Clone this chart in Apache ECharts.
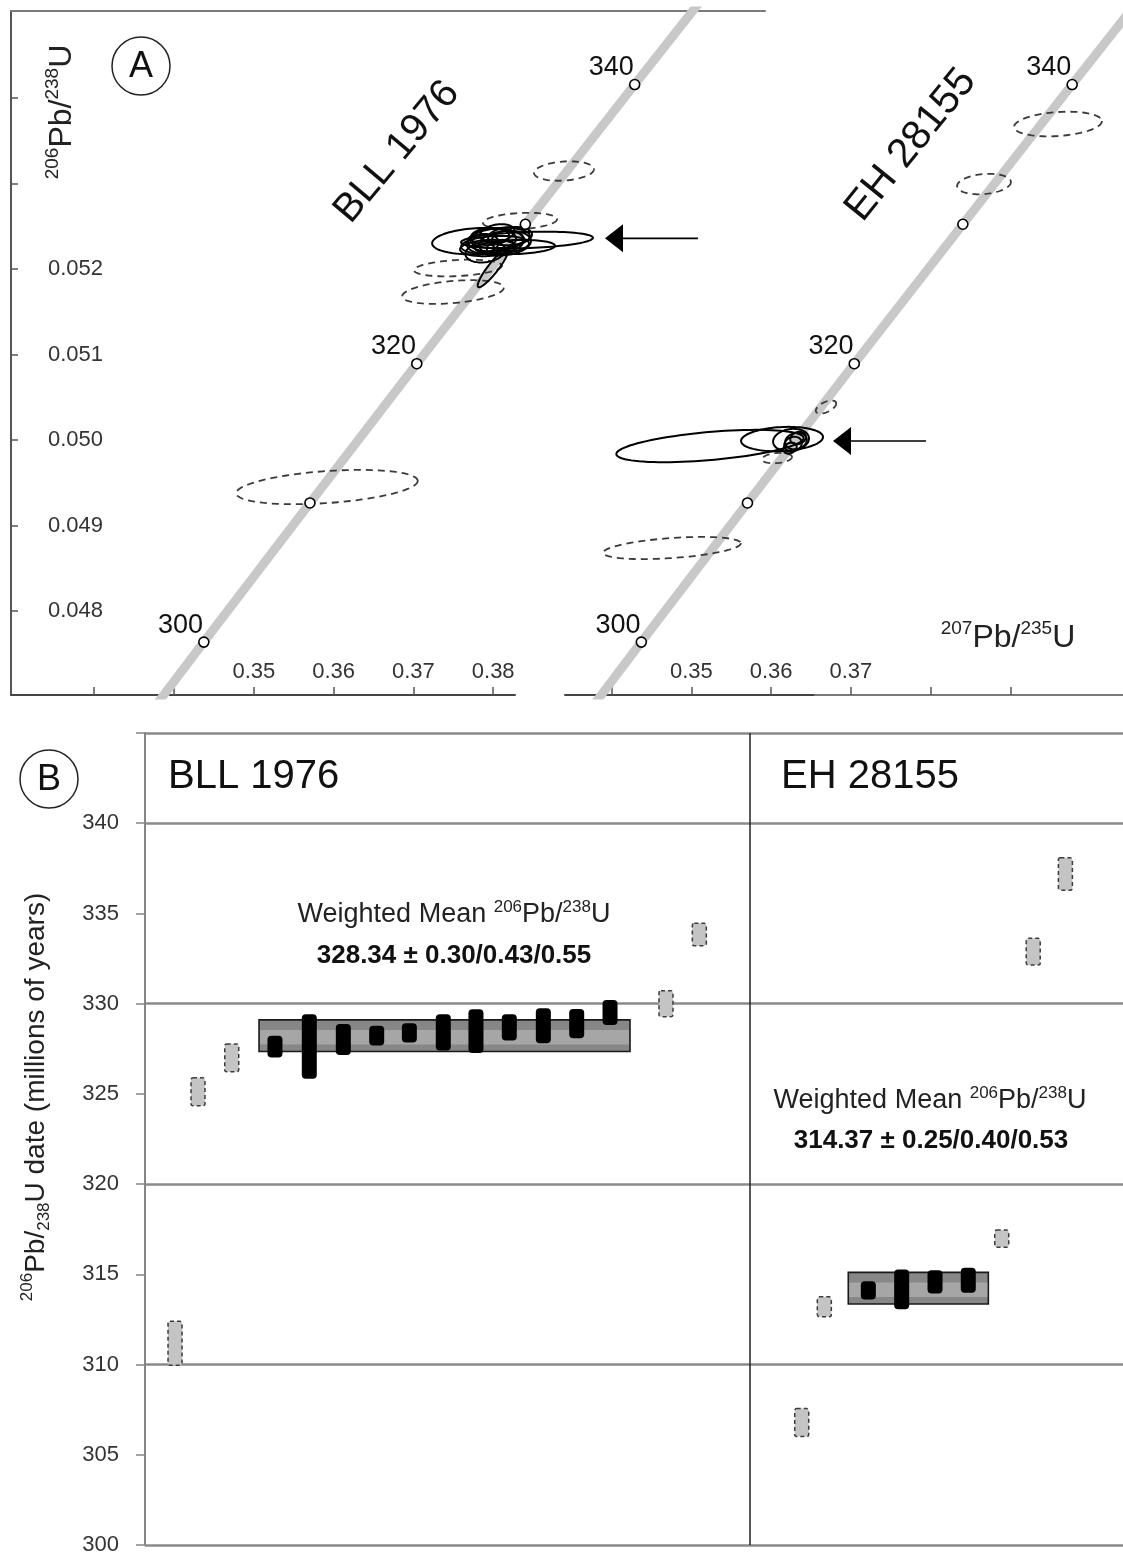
<!DOCTYPE html>
<html><head><meta charset="utf-8">
<script src="https://cdn.jsdelivr.net/npm/echarts@6/dist/echarts.min.js"></script>
<style>html,body{margin:0;padding:0;background:#fff}#c{width:1123px;height:1556px}</style>
</head><body><div id="c"></div>
<script>
// ---------- Panel A: concordia reference points ----------
const concAges = [290, 300, 310, 320, 330, 340, 350];
const concX = [0.330569, 0.343738, 0.357037, 0.370422, 0.384031, 0.397729, 0.411563]; // 207Pb/235U
const concY = [0.046013, 0.047637, 0.049264, 0.050893, 0.052524, 0.054158, 0.055795]; // 206Pb/238U
const markerAges = [300, 310, 320, 330, 340];
const markerLabeled = [true, false, true, false, true];

// BLL 1976 ellipses (centre x, centre y, semi-axis x, semi-axis y, tilt deg, dashed=excluded)
const bllCx = [0.38887, 0.38336, 0.37559, 0.37496, 0.35917, 0.37810, 0.38424, 0.38085, 0.38023, 0.38148, 0.37935, 0.38211, 0.37985, 0.38273, 0.37998, 0.37900, 0.38050, 0.37870, 0.38100, 0.37960, 0.38180];
const bllCy = [0.053146, 0.052561, 0.052012, 0.051731, 0.049450, 0.052327, 0.052339, 0.052363, 0.052281, 0.052304, 0.052246, 0.052386, 0.052339, 0.052257, 0.052012, 0.052200, 0.052420, 0.052300, 0.052250, 0.052380, 0.052330];
const bllRx = [0.00376, 0.00464, 0.00551, 0.00639, 0.01140, 0.00576, 0.00827, 0.00376, 0.00426, 0.00326, 0.00351, 0.00276, 0.00301, 0.00501, 0.00301, 0.00250, 0.00220, 0.00200, 0.00180, 0.00240, 0.00200];
const bllRy = [0.000111, 0.000094, 0.000094, 0.000129, 0.000187, 0.000152, 0.000094, 0.000117, 0.000105, 0.000140, 0.000094, 0.000105, 0.000129, 0.000082, 0.000059, 0.000120, 0.000100, 0.000110, 0.000090, 0.000100, 0.000120];
const bllRot = [4, 3, 3, 5, 4, 3, 2, 4, 3, 6, 3, 5, 4, 2, 52, 8, 10, 5, 6, 3, 4];
const bllDashed = [1, 1, 1, 1, 1, 0, 0, 0, 0, 0, 0, 0, 0, 0, 0, 0, 0, 0, 0, 0, 0];

// EH 28155 ellipses
const ehCx = [0.36688, 0.36074, 0.34758, 0.39595, 0.38668, 0.35234, 0.36137, 0.36250, 0.36312, 0.36275, 0.36338, 0.36237];
const ehCy = [0.050386, 0.049789, 0.048737, 0.053696, 0.052994, 0.049930, 0.050012, 0.050000, 0.049988, 0.049953, 0.050023, 0.049906];
const ehRx = [0.00138, 0.00188, 0.00865, 0.00551, 0.00338, 0.01178, 0.00514, 0.00226, 0.00138, 0.00113, 0.00100, 0.00088];
const ehRy = [0.000059, 0.000059, 0.000117, 0.000140, 0.000117, 0.000164, 0.000140, 0.000129, 0.000094, 0.000082, 0.000070, 0.000059];
const ehRot = [25, 5, 4, 4, 5, 5, 3, 8, 15, 20, 20, 25];
const ehDashed = [1, 1, 1, 1, 1, 0, 0, 0, 0, 0, 0, 0];

// arrows: tip x, tip y, tail x
const bllArrow = [0.39401, 0.052359, 0.40566];
const ehArrow = [0.36776, 0.049988, 0.37941];

// axis ticks
const bllXTicks = [0.33, 0.34, 0.35, 0.36, 0.37, 0.38];
const bllXLabels = [0.35, 0.36, 0.37, 0.38];
const ehXTicks = [0.34, 0.35, 0.36, 0.37, 0.38, 0.39];
const ehXLabels = [0.35, 0.36, 0.37];
const yTicksA = [0.048, 0.049, 0.050, 0.051, 0.052, 0.053, 0.054];
const yLabelsA = [0.048, 0.049, 0.050, 0.051, 0.052];

// ---------- Panel B: 206Pb/238U dates ----------
const bllPos = [3.07, 5.42, 8.87, 13.29, 16.8, 20.28, 23.69, 27.03, 30.5, 33.84, 37.25, 40.73, 44.14, 47.55, 53.27, 56.68];
const bllLow = [309.96, 324.34, 326.22, 327.01, 325.84, 327.15, 327.68, 327.85, 327.40, 327.26, 327.96, 327.81, 328.09, 328.82, 329.28, 333.21];
const bllHigh = [312.40, 325.89, 327.77, 328.22, 329.42, 328.88, 328.77, 328.92, 329.42, 329.69, 329.42, 329.75, 329.71, 330.21, 330.72, 334.45];
const bllUsed = [0, 0, 0, 1, 1, 1, 1, 1, 1, 1, 1, 1, 1, 1, 0, 0];
const bllMeanBox = [11.66, 49.59, 327.35, 329.10];

const ehPos = [67.15, 69.46, 73.96, 77.37, 80.78, 84.18, 87.6, 90.82, 94.11];
const ehLow = [306.01, 312.65, 313.61, 313.06, 313.94, 313.98, 316.50, 332.14, 336.29];
const ehHigh = [307.56, 313.76, 314.62, 315.27, 315.23, 315.36, 317.45, 333.62, 338.08];
const ehUsed = [0, 0, 1, 1, 1, 1, 0, 0, 0];
const ehMeanBox = [71.91, 86.23, 313.36, 315.11];
const samplesDivider = 61.86;

const FF = 'Liberation Sans, Arial, sans-serif';

function rows() {
  const cols = Array.from(arguments);
  return cols[0].map((_, i) => cols.map(c => c[i]));
}

function ellipseItem(params, api) {
  const c = api.coord([api.value(0), api.value(1)]);
  const s = api.size([api.value(2), api.value(3)]);
  const r = api.value(4) * Math.PI / 180;
  const dashed = api.value(5) === 1;
  const pts = [];
  for (let i = 0; i < 90; i++) {
    const t = i / 90 * Math.PI * 2;
    const ex = s[0] * Math.cos(t), ey = s[1] * Math.sin(t);
    pts.push([c[0] + ex * Math.cos(r) + ey * Math.sin(r), c[1] - ex * Math.sin(r) + ey * Math.cos(r)]);
  }
  return {
    type: 'polygon', shape: { points: pts },
    style: dashed ? { fill: 'none', stroke: '#3a3a3a', lineWidth: 1.8, lineDash: [7, 5] }
                  : { fill: 'none', stroke: '#000', lineWidth: 2 }
  };
}

function arrowItem(params, api) {
  const tip = api.coord([api.value(0), api.value(1)]);
  const tail = api.coord([api.value(2), api.value(1)]);
  return {
    type: 'group', children: [
      { type: 'polygon', shape: { points: [[tip[0], tip[1]], [tip[0] + 18, tip[1] - 14], [tip[0] + 18, tip[1] + 14]] }, style: { fill: '#000' } },
      { type: 'line', shape: { x1: tip[0] + 17, y1: tip[1], x2: tail[0], y2: tail[1] }, style: { stroke: '#000', lineWidth: 1.6 } }
    ]
  };
}

function barItem(params, api) {
  const top = api.coord([api.value(0), api.value(2)]);
  const bot = api.coord([api.value(0), api.value(1)]);
  const used = api.value(3) === 1;
  const w = used ? 15 : 14;
  return {
    type: 'rect',
    shape: { x: top[0] - w / 2, y: top[1], width: w, height: bot[1] - top[1], r: used ? 4 : 2 },
    style: used ? { fill: '#000' } : { fill: '#c4c4c4', stroke: '#3c3c3c', lineWidth: 1.5, lineDash: [4, 3] }
  };
}

function boxItem(params, api) {
  const p0 = api.coord([api.value(0), api.value(3)]);
  const p1 = api.coord([api.value(1), api.value(2)]);
  const h = p1[1] - p0[1], w = p1[0] - p0[0];
  return {
    type: 'group', children: [
      { type: 'rect', shape: { x: p0[0], y: p0[1], width: w, height: h }, style: { fill: '#878787', stroke: '#1a1a1a', lineWidth: 1.6 } },
      { type: 'rect', shape: { x: p0[0] + 1, y: p0[1] + h * 0.32, width: w - 2, height: h * 0.46 }, style: { fill: '#a6a6a6' } }
    ]
  };
}

const concData = rows(concX, concY);
const markerData = markerAges.map((a, i) => {
  const k = concAges.indexOf(a);
  return { value: [concX[k], concY[k], a], label: { show: markerLabeled[i] } };
});

const yA = { min: 0.047018, max: 0.055018 };

function concSeries(xi, yi) {
  return [
    { type: 'line', xAxisIndex: xi, yAxisIndex: yi, data: concData, showSymbol: false, silent: true, clip: true,
      lineStyle: { color: '#c8c8c8', width: 9 }, z: 1 },
    { type: 'scatter', xAxisIndex: xi, yAxisIndex: yi, data: markerData, symbol: 'circle', symbolSize: 10, z: 6, silent: true,
      itemStyle: { color: '#fff', borderColor: '#000', borderWidth: 1.6, opacity: 1 },
      label: { position: 'left', distance: 0, offset: [5, -17], formatter: p => String(p.value[2]),
               fontSize: 27, fontFamily: FF, color: '#111' } }
  ];
}

const supRich = (big, small, col) => ({
  m: { fontSize: big, fontFamily: FF, fill: col, lineHeight: big * 1.2 },
  s: { fontSize: small, fontFamily: FF, fill: col, verticalAlign: 'top', lineHeight: big * 1.2 },
  b: { fontSize: small, fontFamily: FF, fill: col, verticalAlign: 'bottom', lineHeight: big * 1.2 }
});

const option = {
  animation: false,
  backgroundColor: '#fff',
  textStyle: { fontFamily: FF },
  grid: [
    { left: 11, top: 11, width: 754, height: 684 },   // BLL data
    { left: 11, top: 11, width: 504, height: 684 },   // BLL bottom axis
    { left: 565, top: 11, width: 558, height: 684 },  // EH data
    { left: 815, top: 11, width: 308, height: 684 },  // EH top border
    { left: 145, top: 733, width: 978, height: 813 }  // panel B
  ],
  xAxis: [
    { gridIndex: 0, type: 'value', position: 'top', min: 0.319574, max: 0.414060,
      axisLine: { show: true, lineStyle: { color: '#7a7a7a', width: 2 } }, axisTick: { show: false }, axisLabel: { show: false }, splitLine: { show: false } },
    { gridIndex: 1, type: 'value', position: 'bottom', min: 0.319574, max: 0.382732,
      axisLine: { show: true, lineStyle: { color: '#444', width: 2 } },
      axisTick: { show: true, inside: true, length: 8, customValues: bllXTicks, lineStyle: { color: '#555', width: 1.5 } },
      axisLabel: { show: true, inside: true, margin: 12, customValues: bllXLabels, formatter: v => v.toFixed(2), fontSize: 22, color: '#333' },
      splitLine: { show: false } },
    { gridIndex: 2, type: 'value', position: 'bottom', min: 0.334173, max: 0.404098,
      axisLine: { show: true, lineStyle: { color: '#444', width: 2 } },
      axisTick: { show: true, inside: true, length: 8, customValues: ehXTicks, lineStyle: { color: '#555', width: 1.5 } },
      axisLabel: { show: true, inside: true, margin: 12, customValues: ehXLabels, formatter: v => v.toFixed(2), fontSize: 22, color: '#333' },
      splitLine: { show: false } },
    { gridIndex: 3, type: 'value', position: 'top', min: 0, max: 1,
      axisLine: { show: true, lineStyle: { color: '#7a7a7a', width: 2 } }, axisTick: { show: false }, axisLabel: { show: false }, splitLine: { show: false } },
    { gridIndex: 4, type: 'value', min: 0, max: 100, show: false }
  ],
  yAxis: [
    { gridIndex: 0, type: 'value', min: yA.min, max: yA.max,
      axisLine: { show: true, lineStyle: { color: '#555', width: 2 } },
      axisTick: { show: true, inside: true, length: 7, customValues: yTicksA, lineStyle: { color: '#555', width: 1.5 } },
      axisLabel: { show: true, inside: true, margin: 37, customValues: yLabelsA, formatter: v => v.toFixed(3), fontSize: 22, color: '#333' },
      splitLine: { show: false } },
    { gridIndex: 1, type: 'value', min: yA.min, max: yA.max, show: false },
    { gridIndex: 2, type: 'value', min: yA.min, max: yA.max, show: false },
    { gridIndex: 3, type: 'value', min: 0, max: 1, show: false },
    { gridIndex: 4, type: 'value', min: 300, max: 345, interval: 5,
      axisLine: { show: true, lineStyle: { color: '#858585', width: 2 } },
      axisTick: { show: true, length: 9, lineStyle: { color: '#858585', width: 1.5 } },
      axisLabel: { margin: 26, fontSize: 22, color: '#333', formatter: v => v === 345 ? '' : String(v) },
      splitLine: { show: false } },
    { gridIndex: 4, type: 'value', min: 300, max: 345, interval: 10,
      axisLine: { show: false }, axisTick: { show: false }, axisLabel: { show: false },
      splitLine: { show: true, lineStyle: { color: '#8a8a8a', width: 2.5 } } }
  ],
  series: [
    ...concSeries(0, 0),
    ...concSeries(2, 2),
    { type: 'custom', xAxisIndex: 0, yAxisIndex: 0, renderItem: ellipseItem, silent: true, z: 4,
      encode: { x: 0, y: 1 }, data: rows(bllCx, bllCy, bllRx, bllRy, bllRot, bllDashed) },
    { type: 'custom', xAxisIndex: 2, yAxisIndex: 2, renderItem: ellipseItem, silent: true, z: 4,
      encode: { x: 0, y: 1 }, data: rows(ehCx, ehCy, ehRx, ehRy, ehRot, ehDashed) },
    { type: 'custom', xAxisIndex: 0, yAxisIndex: 0, renderItem: arrowItem, silent: true, z: 4,
      encode: { x: [0, 2], y: 1 }, data: [bllArrow] },
    { type: 'custom', xAxisIndex: 2, yAxisIndex: 2, renderItem: arrowItem, silent: true, z: 4,
      encode: { x: [0, 2], y: 1 }, data: [ehArrow] },
    { type: 'custom', xAxisIndex: 4, yAxisIndex: 4, renderItem: boxItem, silent: true, z: 2,
      encode: { x: [0, 1], y: [2, 3] }, data: [bllMeanBox, ehMeanBox],
      markLine: { silent: true, symbol: 'none', label: { show: false }, lineStyle: { color: '#222', width: 1.5, type: 'solid' },
                  data: [{ xAxis: samplesDivider }] } },
    { type: 'custom', xAxisIndex: 4, yAxisIndex: 4, renderItem: barItem, silent: true, z: 3,
      encode: { x: 0, y: [1, 2] },
      data: rows(bllPos, bllLow, bllHigh, bllUsed).concat(rows(ehPos, ehLow, ehHigh, ehUsed)) }
  ],
  graphic: [
    { type: 'circle', shape: { cx: 141, cy: 66, r: 29 }, style: { fill: 'none', stroke: '#222', lineWidth: 1.5 } },
    { type: 'text', x: 141, y: 67, style: { text: 'A', font: '36px ' + FF, fill: '#111', align: 'center', verticalAlign: 'middle' } },
    { type: 'text', x: 62, y: 112, rotation: Math.PI / 2,
      style: { text: '{s|206}{m|Pb/}{s|238}{m|U}', align: 'center', verticalAlign: 'middle', rich: supRich(32, 19, '#222') } },
    { type: 'text', x: 397, y: 152, rotation: 50 * Math.PI / 180,
      style: { text: 'BLL 1976', font: '40px ' + FF, fill: '#111', align: 'center', verticalAlign: 'middle' } },
    { type: 'text', x: 911, y: 145, rotation: 51 * Math.PI / 180,
      style: { text: 'EH 28155', font: '41px ' + FF, fill: '#111', align: 'center', verticalAlign: 'middle' } },
    { type: 'text', x: 1008, y: 638,
      style: { text: '{s|207}{m|Pb/}{s|235}{m|U}', align: 'center', verticalAlign: 'middle', rich: supRich(32, 19, '#222') } },
    { type: 'circle', shape: { cx: 49, cy: 779, r: 29 }, style: { fill: 'none', stroke: '#222', lineWidth: 1.5 } },
    { type: 'text', x: 49, y: 780, style: { text: 'B', font: '36px ' + FF, fill: '#111', align: 'center', verticalAlign: 'middle' } },
    { type: 'text', x: 168, y: 777, style: { text: 'BLL 1976', font: '40px ' + FF, fill: '#111', align: 'left', verticalAlign: 'middle' } },
    { type: 'text', x: 781, y: 777, style: { text: 'EH 28155', font: '40px ' + FF, fill: '#111', align: 'left', verticalAlign: 'middle' } },
    { type: 'text', x: 454, y: 915,
      style: { text: '{m|Weighted Mean }{s|206}{m|Pb/}{s|238}{m|U}', align: 'center', verticalAlign: 'middle', rich: supRich(27, 17, '#222') } },
    { type: 'text', x: 454, y: 956,
      style: { text: '328.34 ± 0.30/0.43/0.55', font: 'bold 26px ' + FF, fill: '#111', align: 'center', verticalAlign: 'middle' } },
    { type: 'text', x: 930, y: 1101,
      style: { text: '{m|Weighted Mean }{s|206}{m|Pb/}{s|238}{m|U}', align: 'center', verticalAlign: 'middle', rich: supRich(27, 17, '#222') } },
    { type: 'text', x: 931, y: 1141,
      style: { text: '314.37 ± 0.25/0.40/0.53', font: 'bold 26px ' + FF, fill: '#111', align: 'center', verticalAlign: 'middle' } },
    { type: 'text', x: 36, y: 1097, rotation: Math.PI / 2,
      style: { text: '{s|206}{m|Pb/}{b|238}{m|U date (millions of years)}', align: 'center', verticalAlign: 'middle', rich: supRich(28, 17, '#222') } }
  ]
};

const chart = echarts.init(document.getElementById('c'), null, { renderer: 'canvas' });
chart.setOption(option);
</script>
</body></html>
